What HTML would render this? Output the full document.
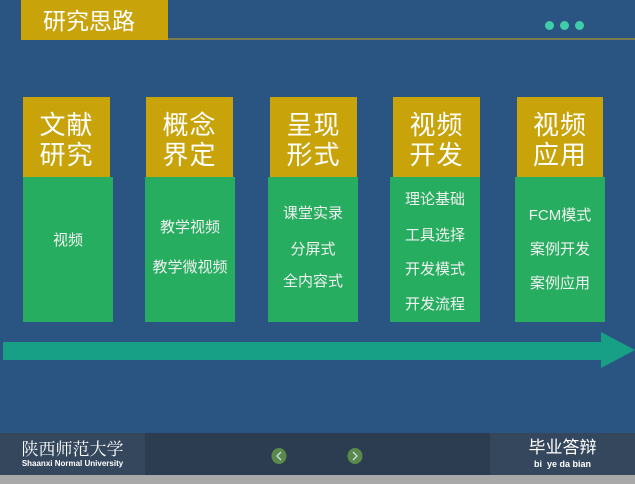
<!DOCTYPE html>
<html><head><meta charset="utf-8"><style>
*{margin:0;padding:0;box-sizing:border-box}
body{width:635px;height:484px;background:#2a5583;position:relative;overflow:hidden;font-family:"Liberation Sans","Noto Sans CJK SC",sans-serif}
.a{position:absolute}
.g{background:#c8a30a;color:#fff;font-size:26px;line-height:30px;text-align:center;padding-top:13px;letter-spacing:1px}
.gr{background:#26ad5f;font-size:15px;text-align:center;color:#f0f0f0}
.gr div{position:absolute;left:0;right:0;line-height:18px}
.dot{width:9px;height:9px;border-radius:50%;background:#3fcca8;top:21px}
</style></head><body>
<div class="a" style="left:21px;top:0;width:147px;height:40px;background:#c8a30a;color:#fff;font-size:23px;line-height:38px;padding-left:22px;font-family:'Noto Sans CJK SC',sans-serif">研究思路</div>
<div class="a" style="left:168px;top:38px;width:467px;height:2px;background:#7c7b4e"></div>
<div class="a dot" style="left:545px"></div><div class="a dot" style="left:560px"></div><div class="a dot" style="left:575px"></div>

<div class="a g" style="left:23px;top:97px;width:87px;height:81px">文献<br>研究</div>
<div class="a gr" style="left:23px;top:177px;width:90px;height:145px"><div style="top:55px">视频</div></div>

<div class="a g" style="left:146px;top:97px;width:87px;height:81px">概念<br>界定</div>
<div class="a gr" style="left:145px;top:177px;width:90px;height:145px"><div style="top:42px">教学视频</div><div style="top:82px">教学微视频</div></div>

<div class="a g" style="left:270px;top:97px;width:87px;height:81px">呈现<br>形式</div>
<div class="a gr" style="left:268px;top:177px;width:90px;height:145px"><div style="top:28px">课堂实录</div><div style="top:64px">分屏式</div><div style="top:96px">全内容式</div></div>

<div class="a g" style="left:393px;top:97px;width:87px;height:81px">视频<br>开发</div>
<div class="a gr" style="left:390px;top:177px;width:90px;height:145px"><div style="top:14px">理论基础</div><div style="top:50px">工具选择</div><div style="top:84px">开发模式</div><div style="top:119px">开发流程</div></div>

<div class="a g" style="left:517px;top:97px;width:86px;height:81px">视频<br>应用</div>
<div class="a gr" style="left:515px;top:177px;width:90px;height:145px"><div style="top:30px">FCM模式</div><div style="top:64px">案例开发</div><div style="top:98px">案例应用</div></div>

<svg class="a" style="left:0;top:330px" width="635" height="40"><polygon points="3,12 601,12 601,2 635,20 601,38 601,30 3,30" fill="#17a086"/></svg>

<div class="a" style="left:0;top:433px;width:635px;height:42px;background:#2c3d52"></div>
<div class="a" style="left:0;top:433px;width:145px;height:42px;background:#34475d;color:#fff;text-align:center">
<div style="font-size:17px;line-height:20px;margin-top:5px;font-family:'Noto Serif CJK SC',serif">陕西师范大学</div>
<div style="font-size:8px;font-weight:bold;line-height:12px">Shaanxi Normal University</div></div>
<div class="a" style="left:490px;top:433px;width:145px;height:42px;background:#34475d;color:#fff;text-align:center">
<div style="font-size:17px;line-height:20px;margin-top:5px">毕业答辩</div>
<div style="font-size:9px;font-weight:bold;line-height:12px">bi &nbsp;ye da bian</div></div>
<svg class="a" style="left:270px;top:447px" width="100" height="18">
<ellipse cx="9" cy="9" rx="7.5" ry="8" fill="#5a8a4a"/><path d="M11,5 L7,9 L11,13" stroke="#cde" stroke-width="1.3" fill="none"/>
<ellipse cx="85" cy="9" rx="7.5" ry="8" fill="#5a8a4a"/><path d="M83,5 L87,9 L83,13" stroke="#cde" stroke-width="1.3" fill="none"/></svg>
<div class="a" style="left:0;top:475px;width:635px;height:9px;background:#a9a9a9"></div>
</body></html>
